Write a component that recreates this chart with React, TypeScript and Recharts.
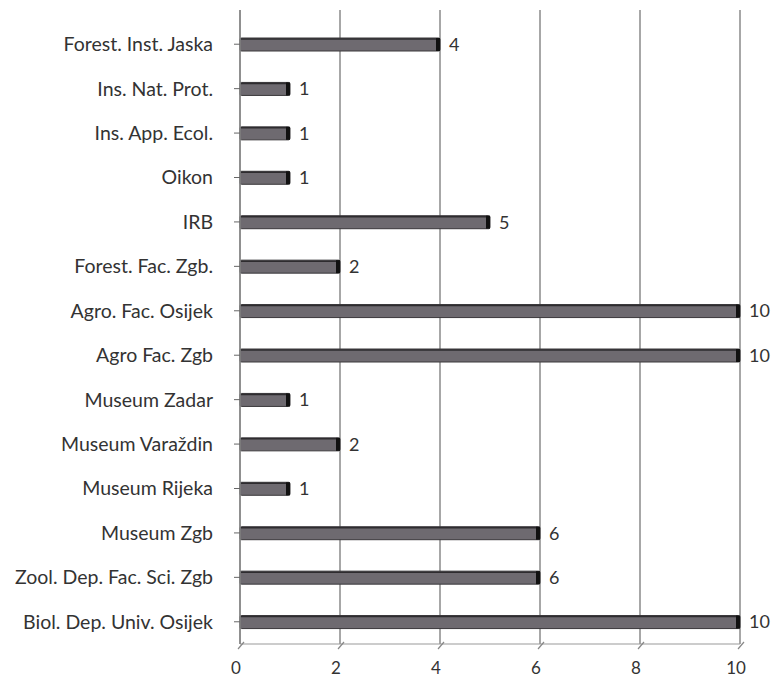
import { BarChart, Bar, XAxis, YAxis, CartesianGrid, LabelList } from 'recharts'

const institutions = [
  'Forest. Inst. Jaska',
  'Ins. Nat. Prot.',
  'Ins. App. Ecol.',
  'Oikon ',
  'IRB',
  'Forest. Fac. Zgb.',
  'Agro. Fac. Osijek',
  'Agro Fac. Zgb',
  'Museum Zadar',
  'Museum Varaždin',
  'Museum Rijeka',
  'Museum Zgb',
  'Zool. Dep. Fac. Sci. Zgb',
  'Biol. Dep.  Univ. Osijek',
]
const counts = [4, 1, 1, 1, 5, 2, 10, 10, 1, 2, 1, 6, 6, 10]
const xTicks = [0, 2, 4, 6, 8, 10]

const data = institutions.map((name, i) => ({ name, count: counts[i] }))

const FONT = 'Lato, "Open Sans", sans-serif'

// flat bar with a dark top edge and a dark end cap, Excel 3D style
function CylBar(props: any) {
  const { x, y, width, height } = props
  if (!width || width <= 0) return null
  return (
    <g>
      <rect x={x} y={y} width={width} height={height} fill="#6e6a70" stroke="#3a383b" strokeWidth={1} rx={1.5} />
      <line x1={x + 1} x2={x + width - 1} y1={y + 1} y2={y + 1} stroke="#2e2c2f" strokeWidth={1.5} />
      <rect x={x + width - 4} y={y} width={4} height={height} fill="#111" />
    </g>
  )
}

function FloorTick(props: any) {
  const { x, y, payload } = props
  return (
    <g>
      <line x1={x + 4} y1={y - 10} x2={x - 2} y2={y - 3} stroke="#888" strokeWidth={1.2} />
      <text x={x - 4} y={y + 22} textAnchor="middle" fill="#333" fontSize={17} fontFamily={FONT}>
        {payload.value}
      </text>
    </g>
  )
}

export default function App() {
  return (
    <div style={{ position: 'absolute', left: 0, top: 0, background: '#fff' }}>
      <BarChart
        width={774}
        height={680}
        data={data}
        layout="vertical"
        margin={{ top: 10, right: 34, bottom: 6, left: 10 }}
        barCategoryGap={0}
      >
        <CartesianGrid horizontal={false} stroke="#8a8a8a" strokeWidth={1.5} />
        <XAxis
          type="number"
          domain={[0, 10]}
          ticks={xTicks}
          axisLine={{ stroke: '#999', strokeWidth: 1.2 }}
          tickLine={false}
          tick={<FloorTick />}
          height={30}
        />
        <YAxis
          type="category"
          dataKey="name"
          width={230}
          padding={{ top: 12, bottom: 0 }}
          axisLine={{ stroke: '#888', strokeWidth: 1.5 }}
          tickLine={{ stroke: '#666' }}
          tickSize={6}
          tick={{ fill: '#333', fontSize: 19.5, fontFamily: FONT, dx: -19 }}
          interval={0}
        />
        <Bar dataKey="count" barSize={13} shape={<CylBar />} isAnimationActive={false}>
          <LabelList dataKey="count" position="right" offset={9} fill="#333" fontSize={18} fontFamily={FONT} />
        </Bar>
      </BarChart>
    </div>
  )
}
